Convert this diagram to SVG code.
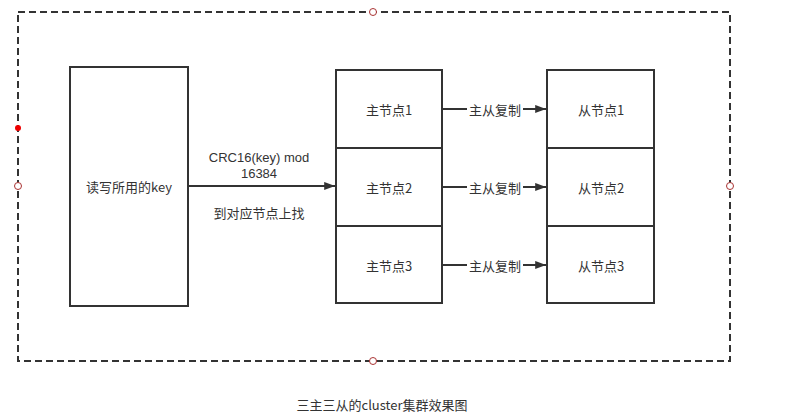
<svg xmlns="http://www.w3.org/2000/svg" width="786" height="417" viewBox="0 0 786 417">
<defs>
<marker id="arr" viewBox="0 0 12 10" refX="12" refY="5" markerWidth="12" markerHeight="9" orient="auto" markerUnits="userSpaceOnUse">
<path d="M0,0.5 L12,5 L0,9.5 Z" fill="#333"/>
</marker>
<style>
.box{fill:#fff;stroke:#333;stroke-width:2}
.t{font-family:"Noto Sans CJK SC","Microsoft YaHei",sans-serif;font-size:13px;fill:#333;text-anchor:middle;dominant-baseline:central}
.l{font-family:"Liberation Sans",Arial,sans-serif;font-size:13px;fill:#333;text-anchor:middle}
.ln{stroke:#333;stroke-width:2;fill:none}
.pt{fill:#fff;stroke:#a33;stroke-width:1}
</style>
</defs>
<rect width="786" height="417" fill="#fff"/>
<g id="container">
<rect x="18" y="12" width="712" height="349" fill="none" stroke="#333" stroke-width="2" stroke-dasharray="7 4"/>
<circle class="pt" cx="373" cy="12" r="3.5"/>
<circle class="pt" cx="18" cy="186" r="3.5"/>
<circle class="pt" cx="730" cy="186" r="3.5"/>
<circle class="pt" cx="373" cy="361" r="3.5"/>
<circle cx="18" cy="128" r="3" fill="#e00"/>
</g>
<g id="client">
<rect class="box" x="70" y="67" width="118" height="239"/>
<text class="t" x="129" y="186">读写所用的key</text>
</g>
<g id="master1"><rect class="box" x="336" y="70" width="106" height="78"/><text class="t" x="389" y="109">主节点1</text></g>
<g id="master2"><rect class="box" x="336" y="148" width="106" height="78"/><text class="t" x="389" y="187">主节点2</text></g>
<g id="master3"><rect class="box" x="336" y="226" width="106" height="77"/><text class="t" x="389" y="265">主节点3</text></g>
<g id="slave1"><rect class="box" x="547" y="70" width="107" height="78"/><text class="t" x="601" y="109">从节点1</text></g>
<g id="slave2"><rect class="box" x="547" y="148" width="107" height="78"/><text class="t" x="601" y="187">从节点2</text></g>
<g id="slave3"><rect class="box" x="547" y="226" width="107" height="77"/><text class="t" x="601" y="265">从节点3</text></g>
<g id="connectors">
<line class="ln" x1="188" y1="186" x2="335" y2="186" marker-end="url(#arr)"/>
<text class="l" x="259" y="162">CRC16(key) mod</text>
<text class="l" x="259" y="178">16384</text>
<text class="t" x="259" y="212">到对应节点上找</text>
<line class="ln" x1="442" y1="109" x2="546" y2="109" marker-end="url(#arr)"/>
<line class="ln" x1="442" y1="187" x2="546" y2="187" marker-end="url(#arr)"/>
<line class="ln" x1="442" y1="265" x2="546" y2="265" marker-end="url(#arr)"/>
<rect x="467" y="100" width="56" height="18" fill="#fff"/>
<rect x="467" y="178" width="56" height="18" fill="#fff"/>
<rect x="467" y="256" width="56" height="18" fill="#fff"/>
<text class="t" x="495" y="109">主从复制</text>
<text class="t" x="495" y="187">主从复制</text>
<text class="t" x="495" y="265">主从复制</text>
</g>
<text class="t" x="382" y="404">三主三从的cluster集群效果图</text>
</svg>
